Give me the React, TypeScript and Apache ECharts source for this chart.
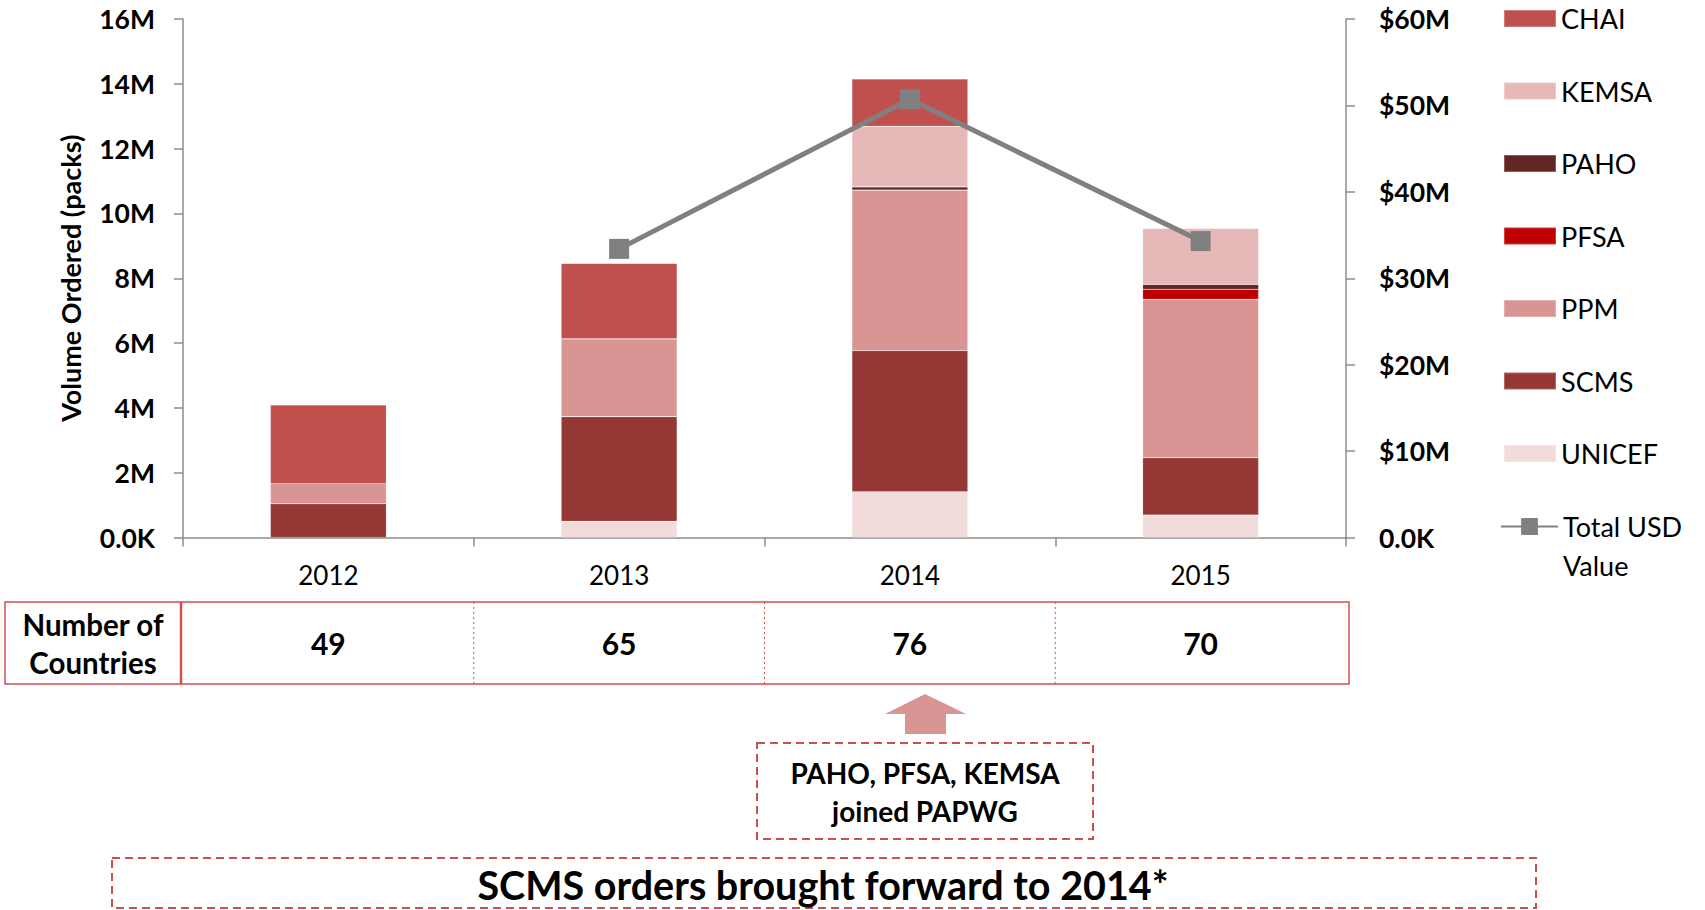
import React, { useEffect, useRef } from 'react';
import * as echarts from 'echarts';

const FONT = 'Lato';

const years = ['2012', '2013', '2014', '2015'];
// Volume ordered (millions of packs), stacked bottom → top
const UNICEF = [null, 0.5, 1.41, 0.69];
const SCMS = [1.04, 3.23, 4.36, 1.77];
const PPM = [0.62, 2.4, 4.95, 4.89];
const PFSA = [null, null, null, 0.31];
const PAHO = [null, null, 0.1, 0.15];
const KEMSA = [null, null, 1.87, 1.73];
const CHAI = [2.43, 2.33, 1.46, null];
// Total USD value (millions)
const totalUSD = [null, 33.4, 50.7, 34.3];
// Number of countries
const countries = [49, 65, 76, 70];

const leftTicks = { min: 0, max: 16, interval: 2 };
const rightTicks = { min: 0, max: 60, interval: 10 };

const seriesDefs = [
  { name: 'UNICEF', data: UNICEF, color: '#F2DCDB' },
  { name: 'SCMS', data: SCMS, color: '#953735' },
  { name: 'PPM', data: PPM, color: '#D99594' },
  { name: 'PFSA', data: PFSA, color: '#C00000' },
  { name: 'PAHO', data: PAHO, color: '#632523' },
  { name: 'KEMSA', data: KEMSA, color: '#E6B9B8' },
  { name: 'CHAI', data: CHAI, color: '#C0504D' },
];
const legendOrder = ['CHAI', 'KEMSA', 'PAHO', 'PFSA', 'PPM', 'SCMS', 'UNICEF'];
const lineName = 'Total USD Value';

const RED = '#D24F4F';
const DASH = '#C9504D';

export default function App() {
  const ref = useRef<HTMLDivElement>(null);
  useEffect(() => {
    const chart = echarts.init(ref.current!, null, { renderer: 'svg' });
    const axisLine = { show: true, lineStyle: { color: '#8C8C8C', width: 1.5 } };
    const axisTick = { show: true, length: 9, lineStyle: { color: '#8C8C8C', width: 1.5 } };
    const option: any = {
      animation: false,
      backgroundColor: '#fff',
      grid: { left: 183, right: 359, top: 19, bottom: 372.5, containLabel: false },
      legend: [
        {
          data: legendOrder,
          orient: 'vertical',
          icon: 'rect',
          left: 1503,
          top: 5,
          padding: 0,
          itemWidth: 52,
          itemHeight: 17,
          itemGap: 45.5,
          selectedMode: false,
          textStyle: { fontFamily: FONT, fontSize: 27, lineHeight: 26, color: '#000' },
        },
        {
          data: [lineName],
          orient: 'vertical',
          left: 1500,
          top: 468,
          padding: 0,
          itemWidth: 57,
          itemHeight: 21,
          selectedMode: false,
          formatter: () => '\nTotal USD\nValue',
          textStyle: {
            fontFamily: FONT,
            fontSize: 27,
            lineHeight: 39,
            color: '#000',
          },
        },
      ],
      xAxis: {
        type: 'category',
        data: years,
        axisLine,
        axisTick: { ...axisTick, alignWithLabel: false },
        axisLabel: {
          fontFamily: FONT,
          fontSize: 26,
          lineHeight: 26,
          color: '#000',
          margin: 24,
        },
      },
      yAxis: [
        {
          type: 'value',
          ...leftTicks,
          name: 'Volume Ordered (packs)',
          nameLocation: 'middle',
          nameGap: 99,
          nameTextStyle: { fontFamily: FONT, fontSize: 27, fontWeight: 'bold', color: '#000' },
          axisLine,
          axisTick,
          splitLine: { show: false },
          axisLabel: {
            fontFamily: FONT,
            fontSize: 26.5,
            fontWeight: 'bold',
            color: '#000',
            margin: 28,
            formatter: (v: number) => (v === 0 ? '0.0K' : v + 'M'),
          },
        },
        {
          type: 'value',
          position: 'right',
          ...rightTicks,
          axisLine,
          axisTick,
          splitLine: { show: false },
          axisLabel: {
            fontFamily: FONT,
            fontSize: 26.5,
            fontWeight: 'bold',
            color: '#000',
            margin: 33,
            formatter: (v: number) => (v === 0 ? '0.0K' : '$' + v + 'M'),
          },
        },
      ],
      series: [
        ...seriesDefs.map((s) => ({
          name: s.name,
          type: 'bar',
          stack: 'volume',
          barWidth: 116,
          data: s.data,
          itemStyle: { color: s.color, borderColor: 'rgba(255,255,255,0.25)', borderWidth: 0.6 },
        })),
        {
          name: lineName,
          type: 'line',
          yAxisIndex: 1,
          data: totalUSD,
          symbol: 'rect',
          symbolSize: 20,
          connectNulls: false,
          lineStyle: { color: '#808080', width: 5 },
          itemStyle: { color: '#808080' },
          z: 5,
        },
      ],
    };
    chart.setOption(option);

    const px = years.map((y) => chart.convertToPixel({ xAxisIndex: 0 }, y) as number);
    const tableTop = 602;
    const tableBottom = 684;
    const tableLeft = 5;
    const tableRight = 1349;
    const headerRight = 181;
    const midY = (tableTop + tableBottom) / 2;

    const graphics: any[] = [
      {
        type: 'rect',
        shape: { x: tableLeft, y: tableTop, width: tableRight - tableLeft, height: tableBottom - tableTop },
        style: { fill: 'none', stroke: RED, lineWidth: 1.5 },
      },
      {
        type: 'line',
        shape: { x1: headerRight, y1: tableTop, x2: headerRight, y2: tableBottom },
        style: { stroke: RED, lineWidth: 2.5 },
      },
      {
        type: 'text',
        style: {
          text: 'Number of\nCountries',
          x: (tableLeft + headerRight) / 2,
          y: midY,
          align: 'center',
          verticalAlign: 'middle',
          fontFamily: FONT,
          fontSize: 29.5,
          fontWeight: 'bold',
          lineHeight: 38,
          fill: '#000',
        },
      },
    ];
    for (let i = 0; i < px.length - 1; i++) {
      const xm = (px[i] + px[i + 1]) / 2;
      graphics.push({
        type: 'line',
        shape: { x1: xm, y1: tableTop, x2: xm, y2: tableBottom },
        style: { stroke: RED, lineWidth: 1, lineDash: [2, 3] },
      });
    }
    countries.forEach((c, i) => {
      graphics.push({
        type: 'text',
        style: {
          text: String(c),
          x: px[i],
          y: midY,
          align: 'center',
          verticalAlign: 'middle',
          fontFamily: FONT,
          fontSize: 30,
          fontWeight: 'bold',
          fill: '#000',
        },
      });
    });
    // arrow
    graphics.push({
      type: 'polygon',
      shape: {
        points: [
          [925, 694],
          [966, 714],
          [946, 714],
          [946, 734],
          [905, 734],
          [905, 714],
          [885, 714],
        ],
      },
      style: { fill: '#D99594' },
    });
    // annotation box 1
    graphics.push({
      type: 'rect',
      shape: { x: 757, y: 743, width: 336, height: 96 },
      style: { fill: 'none', stroke: DASH, lineWidth: 2, lineDash: [8, 5] },
    });
    graphics.push({
      type: 'text',
      style: {
        text: 'PAHO, PFSA, KEMSA\njoined PAPWG',
        x: 925,
        y: 792,
        align: 'center',
        verticalAlign: 'middle',
        fontFamily: FONT,
        fontSize: 28,
        fontWeight: 'bold',
        lineHeight: 38,
        fill: '#000',
      },
    });
    // annotation box 2
    graphics.push({
      type: 'rect',
      shape: { x: 112, y: 858, width: 1424, height: 50 },
      style: { fill: 'none', stroke: DASH, lineWidth: 2, lineDash: [8, 5] },
    });
    graphics.push({
      type: 'text',
      style: {
        text: 'SCMS orders brought forward to 2014*',
        x: 823,
        y: 884,
        align: 'center',
        verticalAlign: 'middle',
        fontFamily: FONT,
        fontSize: 39.5,
        fontWeight: 'bold',
        fill: '#000',
      },
    });
    chart.setOption({ graphic: graphics });

    return () => chart.dispose();
  }, []);
  return (
    <div
      ref={ref}
      style={{ position: 'fixed', left: 0, top: 0, width: 1705, height: 910, background: '#fff' }}
    />
  );
}
